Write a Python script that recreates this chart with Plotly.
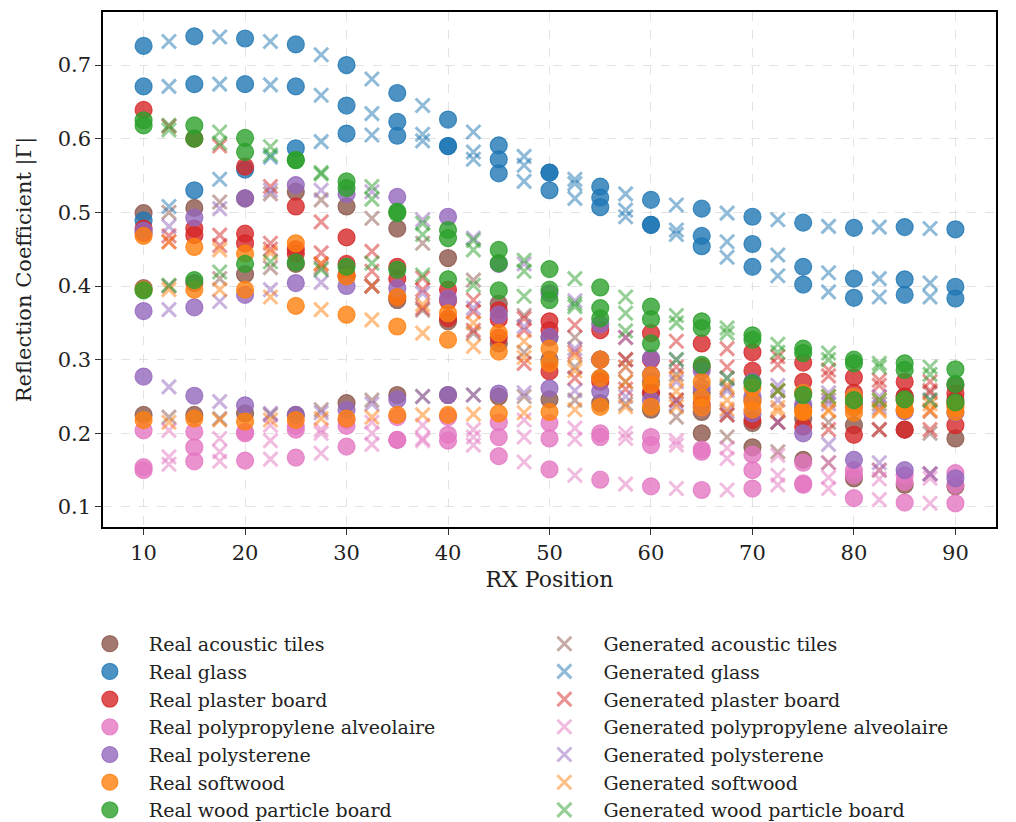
import plotly.graph_objects as go

# ---------------- data ----------------
x_real = [10, 15, 20, 25, 30, 35, 40, 45, 50, 55, 60, 65, 70, 75, 80, 85, 90]
x_gen = [12.5, 17.5, 22.5, 27.5, 32.5, 37.5, 42.5, 47.5, 52.5, 57.5, 62.5, 67.5, 72.5, 77.5, 82.5, 87.5]

materials = ["acoustic tiles", "glass", "plaster board", "polypropylene alveolaire",
             "polysterene", "softwood", "wood particle board"]
colors = ["#8c564b", "#1f77b4", "#d62728", "#e377c2", "#9467bd", "#ff7f0e", "#2ca02c"]

# Real measurements (three transmitter configurations per material)
real_acoustic = [
    [0.499, 0.506, 0.519, 0.528, 0.508, 0.478, 0.438, 0.376, 0.330, 0.300, 0.270, 0.255, 0.245, 0.235, 0.240, 0.250, 0.265],
    [0.397, 0.404, 0.416, 0.430, 0.413, 0.381, 0.352, 0.322, 0.300, 0.275, 0.255, 0.229, 0.214, 0.220, 0.211, 0.205, 0.193],
    [0.225, 0.225, 0.227, 0.225, 0.241, 0.252, 0.252, 0.250, 0.246, 0.241, 0.232, 0.200, 0.181, 0.164, 0.139, 0.130, 0.128],
]
real_glass = [
    [0.726, 0.739, 0.736, 0.728, 0.700, 0.662, 0.626, 0.591, 0.554, 0.535, 0.517, 0.505, 0.494, 0.486, 0.479, 0.480, 0.477],
    [0.671, 0.674, 0.674, 0.671, 0.645, 0.623, 0.590, 0.572, 0.554, 0.520, 0.483, 0.468, 0.457, 0.426, 0.410, 0.409, 0.399],
    [0.489, 0.530, 0.558, 0.587, 0.607, 0.604, 0.590, 0.553, 0.530, 0.507, 0.483, 0.454, 0.426, 0.402, 0.384, 0.388, 0.383],
]
real_plaster = [
    [0.639, 0.600, 0.562, 0.508, 0.466, 0.426, 0.395, 0.367, 0.352, 0.340, 0.336, 0.322, 0.310, 0.296, 0.276, 0.270, 0.254],
    [0.478, 0.478, 0.471, 0.450, 0.430, 0.410, 0.380, 0.355, 0.340, 0.300, 0.300, 0.290, 0.285, 0.270, 0.255, 0.250, 0.245],
    [0.472, 0.469, 0.458, 0.444, 0.415, 0.385, 0.356, 0.330, 0.284, 0.270, 0.255, 0.240, 0.218, 0.209, 0.198, 0.205, 0.211],
]
real_polyprop = [
    [0.204, 0.202, 0.202, 0.210, 0.218, 0.222, 0.222, 0.215, 0.214, 0.200, 0.195, 0.178, 0.171, 0.160, 0.150, 0.143, 0.146],
    [0.154, 0.181, 0.200, 0.205, 0.210, 0.191, 0.198, 0.195, 0.193, 0.195, 0.184, 0.175, 0.150, 0.132, 0.143, 0.134, 0.130],
    [0.150, 0.162, 0.163, 0.167, 0.182, 0.191, 0.190, 0.169, 0.151, 0.137, 0.128, 0.123, 0.125, 0.130, 0.112, 0.106, 0.105],
]
real_polyst = [
    [0.475, 0.493, 0.519, 0.537, 0.525, 0.521, 0.494, 0.430, 0.390, 0.348, 0.302, 0.285, 0.270, 0.255, 0.250, 0.245, 0.240],
    [0.366, 0.371, 0.388, 0.404, 0.400, 0.397, 0.383, 0.361, 0.331, 0.300, 0.280, 0.262, 0.250, 0.240, 0.235, 0.230, 0.228],
    [0.277, 0.251, 0.238, 0.225, 0.232, 0.246, 0.252, 0.254, 0.261, 0.257, 0.245, 0.235, 0.227, 0.200, 0.164, 0.150, 0.139],
]
real_softwood = [
    [0.468, 0.453, 0.444, 0.458, 0.413, 0.385, 0.363, 0.336, 0.315, 0.300, 0.279, 0.270, 0.262, 0.255, 0.250, 0.245, 0.240],
    [0.395, 0.395, 0.395, 0.373, 0.361, 0.345, 0.327, 0.311, 0.295, 0.275, 0.266, 0.248, 0.243, 0.229, 0.236, 0.232, 0.229],
    [0.218, 0.220, 0.216, 0.218, 0.220, 0.225, 0.225, 0.227, 0.229, 0.236, 0.236, 0.235, 0.232, 0.230, 0.228, 0.232, 0.235],
]
real_wood = [
    [0.625, 0.618, 0.601, 0.571, 0.542, 0.501, 0.476, 0.449, 0.423, 0.398, 0.372, 0.352, 0.333, 0.315, 0.300, 0.295, 0.287],
    [0.618, 0.600, 0.582, 0.571, 0.533, 0.499, 0.465, 0.431, 0.395, 0.370, 0.355, 0.343, 0.327, 0.309, 0.295, 0.286, 0.267],
    [0.394, 0.408, 0.430, 0.432, 0.426, 0.422, 0.409, 0.394, 0.381, 0.356, 0.322, 0.293, 0.268, 0.252, 0.245, 0.246, 0.242],
]

# Generated (model) predictions at intermediate RX positions
gen_acoustic = [
    [0.500, 0.514, 0.525, 0.517, 0.492, 0.458, 0.408, 0.360, 0.330, 0.300, 0.280, 0.262, 0.258, 0.245, 0.240, 0.255],
    [0.400, 0.410, 0.425, 0.425, 0.400, 0.367, 0.336, 0.310, 0.290, 0.270, 0.245, 0.225, 0.215, 0.215, 0.205, 0.200],
    [0.222, 0.220, 0.225, 0.232, 0.245, 0.250, 0.252, 0.250, 0.245, 0.240, 0.222, 0.195, 0.175, 0.160, 0.150, 0.145],
]
gen_glass = [
    [0.732, 0.738, 0.732, 0.714, 0.681, 0.645, 0.609, 0.576, 0.545, 0.525, 0.510, 0.499, 0.490, 0.481, 0.480, 0.478],
    [0.671, 0.674, 0.673, 0.659, 0.634, 0.606, 0.582, 0.564, 0.539, 0.503, 0.476, 0.460, 0.442, 0.418, 0.410, 0.404],
    [0.508, 0.545, 0.575, 0.596, 0.605, 0.597, 0.572, 0.542, 0.519, 0.494, 0.470, 0.439, 0.414, 0.392, 0.385, 0.385],
]
gen_plaster = [
    [0.617, 0.590, 0.535, 0.487, 0.447, 0.411, 0.381, 0.356, 0.347, 0.330, 0.325, 0.315, 0.304, 0.286, 0.272, 0.270],
    [0.468, 0.469, 0.458, 0.445, 0.420, 0.395, 0.365, 0.340, 0.310, 0.300, 0.290, 0.290, 0.293, 0.278, 0.265, 0.258],
    [0.460, 0.455, 0.450, 0.430, 0.400, 0.370, 0.340, 0.295, 0.275, 0.260, 0.245, 0.225, 0.215, 0.205, 0.205, 0.205],
]
gen_polyprop = [
    [0.204, 0.193, 0.211, 0.205, 0.215, 0.211, 0.205, 0.218, 0.207, 0.200, 0.190, 0.180, 0.170, 0.160, 0.150, 0.145],
    [0.168, 0.175, 0.190, 0.200, 0.200, 0.193, 0.195, 0.195, 0.192, 0.193, 0.184, 0.166, 0.143, 0.140, 0.138, 0.139],
    [0.158, 0.162, 0.165, 0.173, 0.185, 0.190, 0.184, 0.161, 0.143, 0.131, 0.125, 0.123, 0.130, 0.125, 0.110, 0.105],
]
gen_polyst = [
    [0.481, 0.505, 0.530, 0.530, 0.528, 0.490, 0.465, 0.430, 0.380, 0.330, 0.300, 0.275, 0.265, 0.255, 0.250, 0.245],
    [0.368, 0.379, 0.395, 0.405, 0.400, 0.390, 0.370, 0.345, 0.315, 0.290, 0.270, 0.258, 0.245, 0.240, 0.235, 0.230],
    [0.263, 0.243, 0.227, 0.228, 0.240, 0.250, 0.252, 0.255, 0.258, 0.250, 0.240, 0.230, 0.215, 0.185, 0.160, 0.145],
]
gen_softwood = [
    [0.460, 0.449, 0.445, 0.430, 0.400, 0.375, 0.350, 0.325, 0.305, 0.290, 0.275, 0.265, 0.258, 0.250, 0.245, 0.240],
    [0.395, 0.395, 0.385, 0.368, 0.354, 0.336, 0.318, 0.303, 0.285, 0.270, 0.257, 0.245, 0.235, 0.232, 0.232, 0.230],
    [0.215, 0.218, 0.218, 0.220, 0.222, 0.225, 0.226, 0.228, 0.232, 0.236, 0.236, 0.233, 0.230, 0.230, 0.230, 0.232],
]
gen_wood = [
    [0.618, 0.609, 0.589, 0.554, 0.535, 0.485, 0.462, 0.435, 0.410, 0.385, 0.360, 0.343, 0.321, 0.309, 0.295, 0.290],
    [0.612, 0.594, 0.578, 0.552, 0.518, 0.470, 0.449, 0.420, 0.376, 0.363, 0.350, 0.336, 0.310, 0.300, 0.290, 0.280],
    [0.401, 0.419, 0.433, 0.422, 0.431, 0.415, 0.401, 0.386, 0.372, 0.339, 0.300, 0.275, 0.258, 0.250, 0.245, 0.245],
]

real_sets = [real_acoustic, real_glass, real_plaster, real_polyprop, real_polyst, real_softwood, real_wood]
gen_sets = [gen_acoustic, gen_glass, gen_plaster, gen_polyprop, gen_polyst, gen_softwood, gen_wood]


def rgba(hex_color, a):
    h = hex_color.lstrip("#")
    r, g, b = int(h[0:2], 16), int(h[2:4], 16), int(h[4:6], 16)
    return f"rgba({r},{g},{b},{a})"


FONT = "DejaVu Serif"
fig = go.Figure()

for name, col, curves in zip(materials, colors, real_sets):
    xs, ys = [], []
    for c in curves:
        xs += x_real
        ys += c
    fig.add_trace(go.Scatter(
        x=xs, y=ys, mode="markers", name=f"Real {name}", legend="legend",
        marker=dict(symbol="circle", size=17, color=rgba(col, 0.8),
                    line=dict(color=rgba(col, 0.8), width=1.2)),
    ))

for name, col, curves in zip(materials, colors, gen_sets):
    xs, ys = [], []
    for c in curves:
        xs += x_gen
        ys += c
    fig.add_trace(go.Scatter(
        x=xs, y=ys, mode="markers", name=f"Generated {name}", legend="legend2",
        marker=dict(symbol="x-thin", size=14, color=rgba(col, 0.5),
                    line=dict(color=rgba(col, 0.5), width=3)),
    ))

axis_common = dict(
    showline=True, linecolor="black", linewidth=1.5, mirror=True,
    ticks="outside", ticklen=6, tickwidth=1.2, tickcolor="#333",
    showgrid=True, gridcolor="rgba(200,200,200,0.5)", griddash="dash", gridwidth=1,
    zeroline=False, tickfont=dict(family=FONT, size=21, color="#222"),
)

legend_common = dict(yanchor="top", xanchor="left", orientation="v", itemwidth=68,
                     font=dict(family=FONT, size=19, color="#222"),
                     bgcolor="rgba(0,0,0,0)", tracegroupgap=0)

fig.update_layout(
    width=1016, height=822,
    margin=dict(l=103, r=20, t=12, b=295, autoexpand=False),
    paper_bgcolor="white", plot_bgcolor="white",
    font=dict(family=FONT, color="#222"),
    xaxis=dict(range=[6.0, 94.0], tickvals=[10, 20, 30, 40, 50, 60, 70, 80, 90],
               title=dict(text="RX Position", font=dict(family=FONT, size=22), standoff=8),
               **axis_common),
    yaxis=dict(range=[0.0728, 0.772], tickvals=[0.1, 0.2, 0.3, 0.4, 0.5, 0.6, 0.7],
               tickformat=".1f",
               title=dict(text="Reflection Coefficient |Γ|", font=dict(family=FONT, size=21), standoff=20),
               **axis_common),
    legend=dict(x=-0.036, y=-0.19, **legend_common),
    legend2=dict(x=0.473, y=-0.19, **legend_common),
    showlegend=True,
)

fig.write_html("out.html")
